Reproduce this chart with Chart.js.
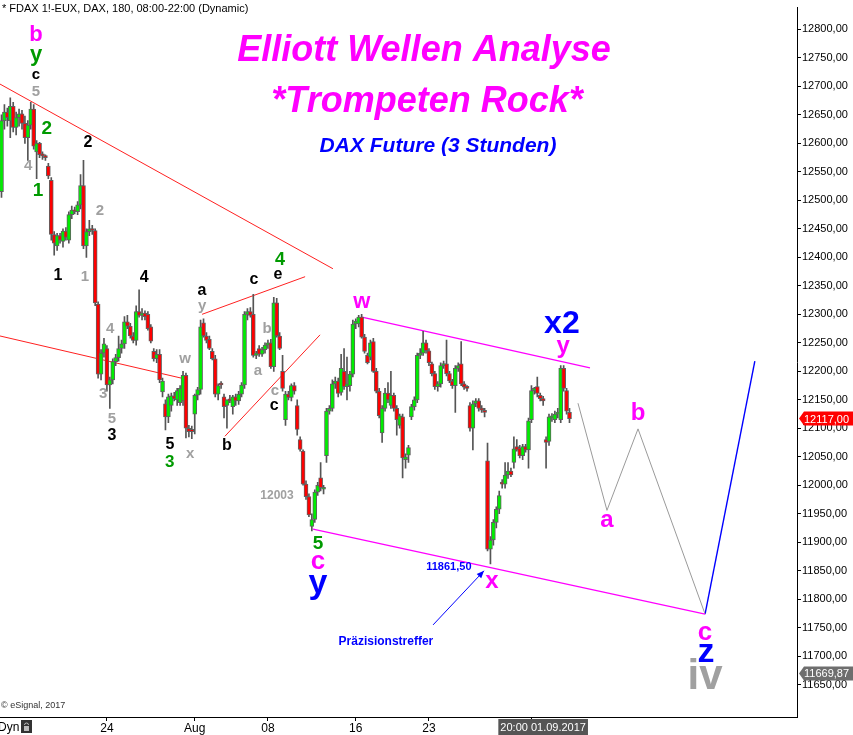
<!DOCTYPE html>
<html>
<head>
<meta charset="utf-8">
<script src="https://cdn.jsdelivr.net/npm/chart.js@4.4.1/dist/chart.umd.min.js"></script>
<style>
  html, body { margin: 0; padding: 0; background: #fff; overflow: hidden; }
  canvas { display: block; }
</style>
</head>
<body>
<canvas id="chart" width="853" height="735"></canvas>
<script>
// FDAX 3h candles, mid July -> 05.09.2017 (bar index 0..194)
const opens = [
  12515,12640,12655,12640,12665,12628,12645,12652,12635,12610,12632,12660,12585,12600,12580,12578,12560,12535,12440,12420,
  12438,12428,12446,12430,12475,12483,12480,12492,12526,12420,12445,12450,12447,12318,12195,12232,12240,12176,12185,12217,
  12224,12240,12248,12287,12279,12262,12254,12305,12298,12302,12300,12278,12235,12222,12230,12164,12143,12120,12140,12157,
  12150,12145,12148,12193,12100,12098,12125,12158,12168,12285,12262,12256,12235,12222,12160,12178,12155,12140,12150,12138,
  12155,12148,12160,12176,12300,12305,12300,12228,12240,12230,12238,12246,12250,12208,12320,12262,12200,12115,12160,12154,
  12175,12140,12080,12060,12002,11980,11928,11940,11988,12013,11993,12052,12130,12135,12178,12183,12163,12200,12173,12175,
  12195,12283,12283,12295,12260,12228,12225,12252,12200,12165,12092,12135,12162,12140,12158,12135,12105,12120,12045,12053,
  12120,12138,12150,12228,12232,12250,12236,12213,12196,12173,12178,12210,12213,12196,12183,12175,12205,12213,12178,12172,
  12140,12100,12143,12148,12133,12130,12043,11888,11904,11935,11958,12005,12002,12018,12025,12040,12068,12065,12052,12068,
  12062,12115,12166,12173,12158,12152,12080,12077,12118,12115,12125,12115,12205,12166,12128
];
const highs = [
  12650,12668,12662,12680,12672,12655,12660,12658,12648,12640,12672,12668,12605,12602,12585,12580,12565,12540,12445,12442,
  12442,12450,12452,12480,12490,12488,12498,12545,12570,12450,12465,12456,12450,12322,12238,12258,12245,12190,12222,12230,
  12262,12255,12296,12298,12284,12268,12315,12343,12310,12306,12305,12282,12240,12238,12238,12188,12150,12160,12162,12163,
  12170,12175,12200,12197,12105,12104,12160,12172,12290,12292,12268,12262,12240,12228,12178,12182,12160,12150,12158,12158,
  12160,12165,12180,12305,12310,12312,12335,12235,12245,12242,12250,12255,12256,12330,12328,12268,12228,12165,12165,12178,
  12180,12150,12085,12062,12008,11985,11950,11992,12005,12040,12000,12135,12140,12185,12190,12188,12230,12240,12225,12200,
  12290,12292,12298,12300,12265,12232,12255,12258,12205,12170,12140,12170,12180,12200,12162,12140,12125,12125,12055,12070,
  12142,12155,12232,12240,12270,12255,12240,12216,12200,12182,12215,12218,12255,12200,12186,12210,12215,12252,12182,12175,
  12145,12148,12152,12152,12140,12135,12074,11910,11940,11962,11990,12010,12040,12040,12030,12085,12080,12070,12072,12072,
  12118,12175,12172,12190,12162,12156,12085,12125,12126,12130,12135,12210,12210,12170,12135
];
const lows = [
  12505,12625,12630,12610,12620,12615,12630,12625,12600,12570,12625,12590,12538,12575,12572,12570,12538,12430,12404,12412,
  12425,12418,12430,12425,12468,12476,12475,12485,12415,12400,12438,12440,12315,12188,12185,12225,12165,12135,12178,12210,
  12218,12232,12240,12275,12258,12250,12246,12295,12290,12290,12272,12250,12218,12215,12180,12155,12097,12110,12130,12148,
  12140,12140,12140,12083,12085,12082,12090,12150,12160,12260,12250,12238,12220,12155,12150,12170,12118,12100,12145,12125,
  12140,12142,12155,12170,12290,12295,12225,12222,12226,12226,12232,12240,12205,12200,12260,12238,12165,12105,12150,12148,
  12160,12088,12060,12000,11975,11945,11920,11935,11982,11990,11985,12040,12125,12130,12170,12155,12158,12168,12150,12165,
  12190,12275,12278,12258,12232,12213,12220,12198,12162,12118,12075,12130,12145,12135,12130,12088,12100,12013,12030,12040,
  12115,12132,12145,12222,12228,12232,12210,12192,12168,12165,12172,12205,12192,12180,12170,12128,12200,12175,12168,12165,
  12095,12062,12138,12130,12128,12120,11885,11862,11895,11925,11950,11995,11995,12012,12015,12030,12060,12048,12045,12058,
  12030,12110,12160,12155,12148,12140,12030,12070,12112,12110,12118,12110,12165,12125,12110
];
const closes = [
  12640,12655,12645,12665,12628,12645,12652,12635,12610,12632,12660,12595,12600,12580,12578,12575,12543,12440,12425,12438,
  12430,12446,12435,12475,12483,12480,12492,12526,12420,12445,12450,12447,12320,12195,12232,12248,12176,12185,12217,12224,
  12240,12248,12287,12279,12262,12254,12305,12298,12302,12296,12275,12253,12222,12230,12185,12183,12120,12155,12157,12152,
  12166,12170,12193,12100,12094,12094,12158,12168,12278,12262,12254,12240,12222,12160,12175,12176,12138,12150,12148,12155,
  12148,12160,12176,12300,12305,12298,12228,12232,12230,12238,12246,12250,12208,12320,12262,12240,12170,12160,12154,12175,
  12165,12098,12063,12002,11980,11948,11940,11988,12000,11996,11995,12130,12135,12178,12183,12161,12205,12173,12178,12195,
  12283,12288,12295,12260,12235,12215,12250,12200,12165,12122,12135,12162,12150,12158,12135,12115,12122,12048,12050,12066,
  12138,12150,12228,12232,12250,12236,12215,12196,12173,12178,12210,12213,12196,12183,12175,12205,12210,12178,12172,12170,
  12100,12143,12148,12135,12132,12128,11888,11904,11935,11958,11982,12002,12018,12025,12018,12064,12062,12052,12068,12062,
  12113,12166,12170,12161,12152,12148,12075,12120,12122,12125,12128,12205,12170,12130,12117
];

// axis ticks
const priceTicks = [11650,11700,11750,11800,11850,11900,11950,12000,12050,12100,12150,12200,
                    12250,12300,12350,12400,12450,12500,12550,12600,12650,12700,12750,12800];
const dateTicks = [36, 66, 91, 121, 146, 181];
const dateLabels = ['24', 'Aug', '08', '16', '23', ''];
const cursorBar = 185;
const cursorLabel = '20:00 01.09.2017';

// drawn lines: [bar, price, bar, price]
const redLines = [
  [-0.51, 12704, 113.2, 12380],
  [-0.51, 12262, 62.3, 12187],
  [68.5, 12300, 103.7, 12366],
  [76.3, 12086, 108.8, 12264]
];
const channelUpper = [[123.1, 12295], [201.0, 12206]];
const channelLower = [[106.4, 11923], [240.3, 11774]];
const projectionGrey = [[196.9, 12144], [206.8, 11956], [217.4, 12099], [240.3, 11774]];
const projectionBlue = [[240.3, 11774], [257.3, 12218]];
const arrowLine = [[147.4, 11755], [164.8, 11850]];
const markPrice = 11669.87;

const MAG = '#ff00ff', BLUE = '#0000ff', GREEN = '#009a00', GREY = '#a0a0a0', BLACK = '#000000';

// wave labels: text, bar, price, colour, px size
const waveLabels = [
  ['b', 11.8, 12790, MAG, 22], ['y', 11.8, 12755, GREEN, 22], ['c', 11.8, 12720, BLACK, 15],
  ['5', 11.8, 12691, GREY, 15], ['2', 15.5, 12625, GREEN, 19], ['4', 9.1, 12560, GREY, 15],
  ['1', 12.5, 12517, GREEN, 19], ['2', 29.5, 12602, BLACK, 16], ['2', 33.6, 12481, GREY, 15],
  ['1', 19.3, 12368, BLACK, 16], ['1', 28.5, 12366, GREY, 15], ['4', 37.1, 12274, GREY, 15],
  ['3', 34.7, 12161, GREY, 15], ['5', 37.7, 12116, GREY, 15], ['3', 37.7, 12087, BLACK, 16],
  ['4', 48.7, 12364, BLACK, 16], ['w', 62.7, 12222, GREY, 15], ['5', 57.5, 12071, BLACK, 16],
  ['3', 57.5, 12041, GREEN, 17], ['x', 64.4, 12055, GREY, 15], ['a', 68.5, 12342, BLACK, 16],
  ['y', 68.5, 12314, GREY, 15], ['c', 86.2, 12361, BLACK, 16], ['4', 95.1, 12396, GREEN, 18],
  ['e', 94.4, 12369, BLACK, 16], ['b', 90.7, 12274, GREY, 15], ['a', 87.6, 12201, GREY, 15],
  ['c', 93.4, 12165, GREY, 15], ['c', 93.1, 12140, BLACK, 16], ['b', 77, 12069, BLACK, 16],
  ['12003', 94.1, 11982, GREY, 12], ['5', 108.1, 11897, GREEN, 19], ['c', 108.1, 11866, MAG, 26],
  ['y', 108.1, 11828, BLUE, 34], ['w', 123.1, 12321, MAG, 22], ['x2', 191.4, 12283, BLUE, 32],
  ['y', 191.8, 12243, MAG, 24], ['11861,50', 152.8, 11856, BLUE, 11], ['x', 167.5, 11831, MAG, 24],
  ['Präzisionstreffer', 131.3, 11725, BLUE, 12], ['a', 206.8, 11939, MAG, 24], ['b', 217.4, 12126, MAG, 24],
  ['c', 240.3, 11741, MAG, 26], ['z', 240.6, 11706, BLUE, 34], ['iv', 240.3, 11663, GREY, 42]
];

Chart.defaults.font.family = 'Arial, "Liberation Sans", sans-serif';

const bars = opens.map((o, i) => i);
const wickData = bars.map(i => ({ x: i, y: [lows[i], highs[i]] }));
const bodyData = bars.map(i => ({ x: i, y: [Math.min(opens[i], closes[i]), Math.max(opens[i], closes[i])] }));
const bodyColors = bars.map(i => closes[i] >= opens[i] ? '#00ee00' : '#ff0000');

function lineSet(points, color, width) {
  return {
    type: 'line',
    data: points.map(p => ({ x: p[0], y: p[1] })),
    borderColor: color,
    borderWidth: width,
    pointRadius: 0,
    tension: 0,
    fill: false,
    order: 3
  };
}

function fmt(v) {
  return v.toFixed(2).replace('.', ',');
}

const overlay = {
  id: 'overlay',
  afterDraw(chart) {
    const { ctx, scales: { x, y } } = chart;
    ctx.save();
    ctx.textBaseline = 'middle';

    // header + titles
    ctx.fillStyle = '#000';
    ctx.font = '11px Arial, "Liberation Sans"';
    ctx.textAlign = 'left';
    ctx.fillText('* FDAX 1!-EUX, DAX, 180, 08:00-22:00 (Dynamic)', 2, 9);
    ctx.textAlign = 'center';
    ctx.fillStyle = MAG;
    ctx.font = 'italic bold 36px Arial, "Liberation Sans"';
    ctx.fillText('Elliott Wellen Analyse', 424, 51);
    ctx.fillText('*Trompeten Rock*', 427, 102);
    ctx.fillStyle = BLUE;
    ctx.font = 'italic bold 21px Arial, "Liberation Sans"';
    ctx.fillText('DAX Future (3 Stunden)', 438, 146);

    // wave labels
    waveLabels.forEach(([t, bi, p, c, s]) => {
      ctx.fillStyle = c;
      ctx.font = 'bold ' + s + 'px Arial, "Liberation Sans"';
      ctx.fillText(t, x.getPixelForValue(bi), y.getPixelForValue(p));
    });

    // arrow to the low
    const ax1 = x.getPixelForValue(arrowLine[0][0]), ay1 = y.getPixelForValue(arrowLine[0][1]);
    const ax2 = x.getPixelForValue(arrowLine[1][0]), ay2 = y.getPixelForValue(arrowLine[1][1]);
    ctx.strokeStyle = BLUE;
    ctx.fillStyle = BLUE;
    ctx.lineWidth = 1;
    ctx.beginPath(); ctx.moveTo(ax1, ay1); ctx.lineTo(ax2, ay2); ctx.stroke();
    const ang = Math.atan2(ay2 - ay1, ax2 - ax1);
    ctx.beginPath();
    ctx.moveTo(ax2, ay2);
    ctx.lineTo(ax2 - 8 * Math.cos(ang - 0.4), ay2 - 8 * Math.sin(ang - 0.4));
    ctx.lineTo(ax2 - 8 * Math.cos(ang + 0.4), ay2 - 8 * Math.sin(ang + 0.4));
    ctx.closePath(); ctx.fill();

    // price flags on the axis
    const flag = (v, bg) => {
      const py = y.getPixelForValue(v);
      const left = chart.chartArea.right + 2;
      ctx.fillStyle = bg;
      ctx.beginPath();
      ctx.moveTo(left, py);
      ctx.lineTo(left + 5, py - 7);
      ctx.lineTo(853, py - 7);
      ctx.lineTo(853, py + 7);
      ctx.lineTo(left + 5, py + 7);
      ctx.closePath();
      ctx.fill();
      ctx.fillStyle = '#fff';
      ctx.font = '11px Arial, "Liberation Sans"';
      ctx.textAlign = 'left';
      ctx.fillText(fmt(v), left + 5, py + 1);
    };
    flag(closes[closes.length - 1], '#ff0000');
    flag(markPrice, '#6e6e6e');

    // bottom bar: cursor date, copyright, Dyn
    const bx = x.getPixelForValue(cursorBar);
    ctx.font = '11px Arial, "Liberation Sans"';
    const tw = ctx.measureText(cursorLabel).width + 4;
    ctx.fillStyle = '#555';
    ctx.fillRect(bx - tw / 2, 719, tw, 16);
    ctx.fillStyle = '#fff';
    ctx.textAlign = 'center';
    ctx.fillText(cursorLabel, bx, 728);

    ctx.fillStyle = '#000';
    ctx.textAlign = 'left';
    ctx.font = '12px Arial, "Liberation Sans"';
    ctx.fillText('Dyn', -2, 728);
    ctx.fillStyle = '#333';
    ctx.fillRect(21, 720, 11, 13);
    ctx.fillStyle = '#bbb';
    ctx.fillRect(24, 726, 5, 5);
    ctx.strokeStyle = '#bbb';
    ctx.beginPath(); ctx.arc(26.5, 725, 2, Math.PI, 0); ctx.stroke();

    ctx.fillStyle = '#333';
    ctx.font = '9px Arial, "Liberation Sans"';
    ctx.fillText('© eSignal, 2017', 1, 706);
    ctx.restore();
  }
};

new Chart(document.getElementById('chart'), {
  type: 'bar',
  data: {
    datasets: [
      ...redLines.map(l => lineSet([[l[0], l[1]], [l[2], l[3]]], '#ff2020', 1)),
      lineSet(channelUpper, MAG, 1.3),
      lineSet(channelLower, MAG, 1.3),
      lineSet(projectionGrey, '#9a9a9a', 1),
      lineSet(projectionBlue, BLUE, 1.4),
      {
        data: wickData,
        backgroundColor: '#555555',
        barThickness: 1,
        grouped: false,
        order: 2
      },
      {
        data: bodyData,
        backgroundColor: bodyColors,
        borderColor: '#606060',
        borderWidth: 1,
        borderSkipped: false,
        barThickness: 4,
        minBarLength: 2,
        grouped: false,
        order: 1
      }
    ]
  },
  options: {
    responsive: false,
    animation: false,
    devicePixelRatio: 1,
    layout: { padding: 0 },
    plugins: { legend: { display: false }, tooltip: { enabled: false } },
    scales: {
      x: {
        type: 'linear',
        min: -0.51,
        max: 271.7,
        offset: false,
        grid: { offset: false, drawOnChartArea: false, drawTicks: true, tickLength: 4, color: '#000' },
        border: { color: '#000' },
        afterBuildTicks: s => { s.ticks = dateTicks.map(v => ({ value: v })); },
        ticks: {
          autoSkip: false, maxRotation: 0, padding: 0, color: '#000',
          font: { size: 12 },
          callback: (v, i) => dateLabels[i]
        },
        afterFit: s => { s.height = 18; }
      },
      y: {
        type: 'linear',
        position: 'right',
        min: 11593.4,
        max: 12838.2,
        grid: { offset: false, drawOnChartArea: false, drawTicks: true, tickLength: 4, color: '#000' },
        border: { color: '#000' },
        afterBuildTicks: s => { s.ticks = priceTicks.map(v => ({ value: v })); },
        ticks: {
          padding: 1, color: '#000', font: { size: 11 },
          callback: v => fmt(v)
        },
        afterFit: s => { s.width = 56; }
      }
    }
  },
  plugins: [overlay]
});
</script>
</body>
</html>
